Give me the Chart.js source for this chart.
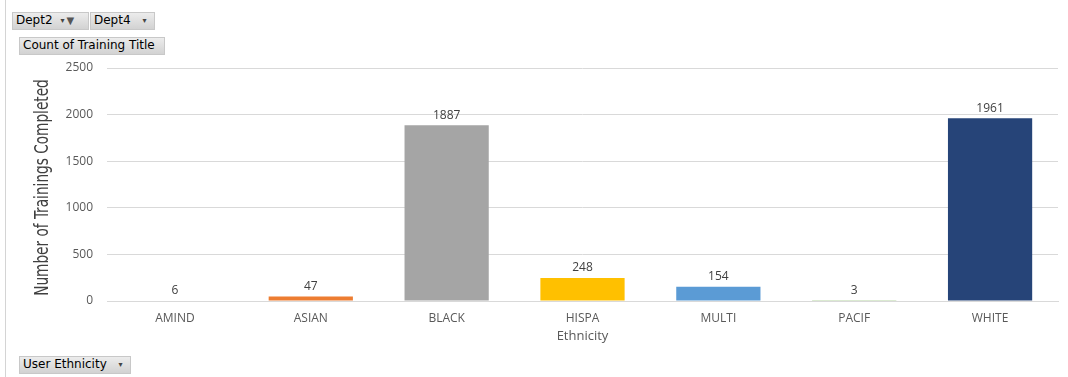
<!DOCTYPE html>
<html>
<head>
<meta charset="utf-8">
<script src="https://cdn.jsdelivr.net/npm/chart.js@4"></script>
<style>
  html, body { margin: 0; padding: 0; background: #fff; }
  #wrap { position: relative; width: 1068px; height: 377px; overflow: hidden; }
  #chart { position: absolute; left: 0; top: 0; }
  .frame { position: absolute; left: 5px; top: 0; width: 1px; height: 377px; background: #d4d4d4; }
  .btn {
    position: absolute; height: 18px; line-height: 18px; padding: 0 3px;
    font: 12px "DejaVu Sans", sans-serif; color: #000;
    background: linear-gradient(#ececec, #d2d2d2); border: 1px solid #c8c8c8;
    box-sizing: border-box; white-space: nowrap;
  }
  .arr { display: inline-block; margin-left: 8px; font-size: 8px; color: #444; vertical-align: 1px; }
  .funnel { display: inline-block; margin-left: 2px; font-size: 10px; color: #555; }
</style>
</head>
<body>
<div id="wrap">
  <div class="frame"></div>
  <canvas id="chart" width="1068" height="377"></canvas>
  <div class="btn" style="left:12px;top:12px;width:77px;">Dept2 <span class="arr" style="margin-left:4px">&#9662;</span><span class="funnel">&#9660;</span></div>
  <div class="btn" style="left:90px;top:12px;width:65px;">Dept4 <span class="arr">&#9662;</span></div>
  <div class="btn" style="left:19px;top:37px;width:146px;">Count of Training Title</div>
  <div class="btn" style="left:19px;top:356px;width:112px;">User Ethnicity <span class="arr">&#9662;</span></div>
</div>
<script>
const categories = ['AMIND', 'ASIAN', 'BLACK', 'HISPA', 'MULTI', 'PACIF', 'WHITE'];
const counts = [6, 47, 1887, 248, 154, 3, 1961];
const barColors = ['#4472C4', '#ED7D31', '#A5A5A5', '#FFC000', '#5B9BD5', '#70AD47', '#264478'];
const yTicks = [0, 500, 1000, 1500, 2000, 2500];
const yTitle = 'Number of Trainings Completed';

// value labels above each bar
const valueLabels = {
  id: 'valueLabels',
  afterDatasetsDraw(chart) {
    const ctx = chart.ctx;
    const meta = chart.getDatasetMeta(0);
    ctx.save();
    ctx.font = '12px "Open Sans", sans-serif';
    ctx.fillStyle = '#404040';
    ctx.textAlign = 'center';
    ctx.textBaseline = 'bottom';
    meta.data.forEach((bar, i) => {
      ctx.fillText(String(counts[i]), bar.x, bar.y - 4);
    });
    ctx.restore();
  },
};

// narrow rotated axis title (the original uses a condensed face)
const narrowTitle = {
  id: 'narrowTitle',
  afterDraw(chart) {
    const ctx = chart.ctx;
    const area = chart.chartArea;
    ctx.save();
    ctx.translate(43, (area.top + area.bottom) / 2 + 3);
    ctx.rotate(-Math.PI / 2);
    ctx.scale(0.8, 1);
    ctx.font = '19px "DejaVu Sans Condensed", "DejaVu Sans", sans-serif';
    ctx.fillStyle = '#404040';
    ctx.textAlign = 'center';
    ctx.textBaseline = 'middle';
    ctx.fillText(yTitle, 0, 0);
    ctx.restore();
  },
};

new Chart(document.getElementById('chart'), {
  type: 'bar',
  data: {
    labels: categories,
    datasets: [{
      label: 'Count of Training Title',
      data: counts,
      backgroundColor: barColors,
      categoryPercentage: 1,
      barPercentage: 0.62,
    }],
  },
  options: {
    responsive: false,
    animation: false,
    layout: { padding: { top: 68, right: 10, bottom: 29, left: 0 } },
    plugins: { legend: { display: false }, tooltip: { enabled: false } },
    scales: {
      x: {
        grid: { display: false },
        border: { color: '#d9d9d9' },
        ticks: { color: '#595959', font: { family: 'Open Sans', size: 12 }, padding: 2 },
        title: { display: true, text: 'Ethnicity', color: '#595959', font: { family: 'Open Sans', size: 13 }, padding: { top: 0 } },
        afterFit(scale) { scale.height = 47; },
      },
      y: {
        min: 0,
        max: 2500,
        afterBuildTicks(scale) { scale.ticks = yTicks.map((v) => ({ value: v })); },
        grid: { color: '#d9d9d9', drawTicks: false },
        border: { display: false },
        ticks: {
          color: '#595959',
          font: { family: 'Open Sans', size: 12 },
          padding: 14,
          callback: (v) => String(v),
        },
        afterFit(scale) { scale.width = 107; },
      },
    },
  },
  plugins: [valueLabels, narrowTitle],
});
</script>
</body>
</html>
